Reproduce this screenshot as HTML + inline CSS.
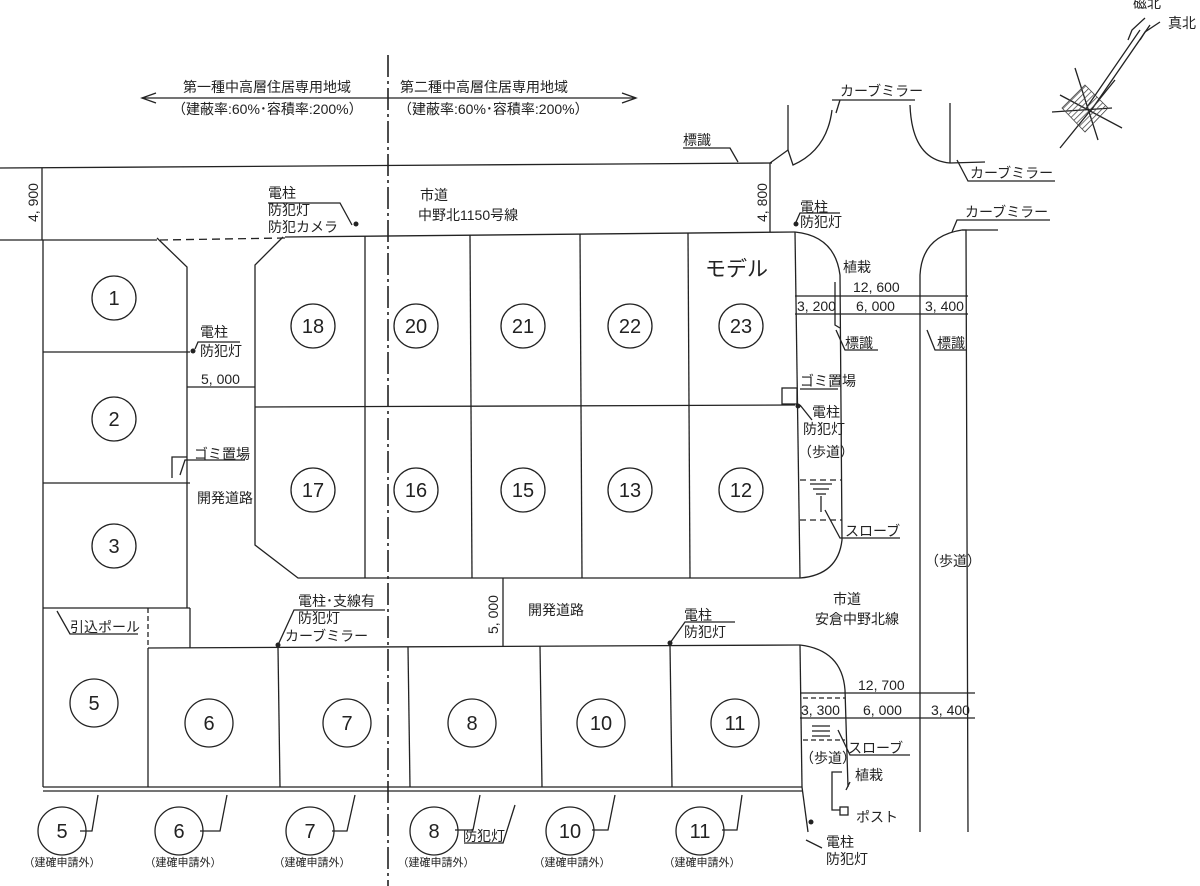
<!DOCTYPE html>
<html><head><meta charset="utf-8"><style>
html,body{margin:0;padding:0;background:#fff;}
svg{display:block;}
text{font-family:"Liberation Sans","Noto Sans CJK JP",sans-serif;fill:#222;}
.t{font-size:14px;}
.n{font-size:20px;}
</style></head><body>
<svg width="1200" height="886" viewBox="0 0 1200 886" xmlns="http://www.w3.org/2000/svg">
<defs>
<pattern id="h" width="4" height="4" patternUnits="userSpaceOnUse" patternTransform="rotate(45)">
<line x1="0" y1="0" x2="0" y2="4" stroke="#444" stroke-width="1.5"/>
</pattern>
</defs>
<g stroke="#222" stroke-width="1.3" fill="none">
<line x1="142" y1="98" x2="636" y2="98"/>
<polyline points="156,93 142,98 156,103"/>
<polyline points="622,93 636,98 622,103"/>
<line x1="388" y1="55" x2="388" y2="886" stroke-width="1.6" stroke-dasharray="22,4,3,4"/>
<line x1="0" y1="168" x2="772" y2="163"/>
<line x1="0" y1="240" x2="157" y2="240"/>
<line x1="160" y1="240" x2="285" y2="238" stroke-dasharray="8,5"/>
<line x1="285" y1="237" x2="795" y2="232"/>
<line x1="42" y1="168" x2="42" y2="240"/>
<line x1="770" y1="163" x2="770" y2="232"/>
<path d="M770,163 L788,150 L793,165 Q827,150 832,110"/>
<line x1="788" y1="105" x2="788" y2="150"/>
<path d="M910,105 Q912,160 950,163 L985,162"/>
<line x1="950" y1="103" x2="950" y2="163"/>
<line x1="832" y1="100" x2="915" y2="100"/>
<line x1="43" y1="240" x2="43" y2="787"/>
<polyline points="157,238 187,267 187,608"/>
<line x1="43" y1="352" x2="190" y2="352"/>
<line x1="43" y1="483" x2="190" y2="483"/>
<line x1="43" y1="608" x2="190" y2="608"/>
<line x1="190" y1="608" x2="190" y2="648"/>
<line x1="148" y1="608" x2="148" y2="648" stroke-dasharray="5,3"/>
<polyline points="172,478 172,457 187,457"/>
<line x1="187" y1="387" x2="255" y2="387"/>
<polyline points="283,237 255,265 255,545 298,578 800,578"/>
<line x1="365" y1="236" x2="365" y2="578"/>
<line x1="470" y1="235" x2="472" y2="578"/>
<line x1="580" y1="234" x2="582" y2="578"/>
<line x1="688" y1="233" x2="690" y2="578"/>
<line x1="795" y1="232" x2="800" y2="578"/>
<line x1="255" y1="407" x2="795" y2="405"/>
<rect x="782" y="388" width="15" height="16"/>
<path d="M795,232 Q835,236 840,275 L842,540 Q838,575 800,578"/>
<path d="M835,282 L835,325 L840,328"/>
<line x1="800" y1="480" x2="842" y2="480" stroke-dasharray="6,4"/>
<line x1="800" y1="520" x2="842" y2="520" stroke-dasharray="6,4"/>
<line x1="810" y1="484" x2="832" y2="484"/>
<line x1="813" y1="489" x2="829" y2="489"/>
<line x1="816" y1="494" x2="826" y2="494"/>
<line x1="821" y1="496" x2="821" y2="512"/>
<path d="M920,832 L920,275 Q922,236 962,230 L966,230 L968,832"/>
<line x1="962" y1="230" x2="998" y2="230"/>
<line x1="795" y1="296" x2="968" y2="296"/>
<line x1="795" y1="314" x2="968" y2="314"/>
<line x1="148" y1="648" x2="800" y2="645"/>
<line x1="148" y1="648" x2="148" y2="787"/>
<line x1="278" y1="648" x2="280" y2="787"/>
<line x1="408" y1="647" x2="410" y2="787"/>
<line x1="540" y1="646" x2="542" y2="787"/>
<line x1="670" y1="645" x2="672" y2="787"/>
<line x1="800" y1="645" x2="802" y2="787"/>
<line x1="503" y1="578" x2="503" y2="646"/>
<line x1="43" y1="787" x2="802" y2="787"/>
<line x1="43" y1="791" x2="802" y2="791"/>
<line x1="802" y1="787" x2="808" y2="832"/>
<path d="M800,645 Q842,650 845,690 L848,787"/>
<line x1="800" y1="693" x2="975" y2="693"/>
<line x1="800" y1="718" x2="975" y2="718"/>
<line x1="803" y1="698" x2="845" y2="698" stroke-dasharray="5,3"/>
<line x1="803" y1="740" x2="845" y2="740" stroke-dasharray="5,3"/>
<line x1="812" y1="726" x2="830" y2="726"/><line x1="812" y1="731" x2="830" y2="731"/><line x1="812" y1="736" x2="830" y2="736"/>
<polyline points="842,772 832,772 832,810 840,810"/>
<rect x="840" y="807" width="8" height="8"/>
<polyline points="268,203 340,203 352,225"/>
<polyline points="796,222 800,213 840,213"/>
<polyline points="195,349 198,342 240,342"/>
<polyline points="180,475 185,460 245,460"/>
<polyline points="57,611 70,634 138,634"/>
<polyline points="278,645 294,610 385,610"/>
<polyline points="670,643 685,622 735,622"/>
<polyline points="683,148 730,148 738,162"/>
<polyline points="836,113 840,100"/>
<polyline points="957,160 968,181 1055,181"/>
<polyline points="952,232 957,220 1050,220"/>
<polyline points="836,330 845,350 878,350"/>
<polyline points="927,330 935,350 967,350"/>
<polyline points="800,389 838,389"/>
<polyline points="800,405 812,420"/>
<polyline points="825,510 840,538 900,538"/>
<polyline points="838,730 850,755 910,755"/>
<polyline points="846,790 850,782"/>
<polyline points="806,840 822,848"/>
<polyline points="98,795 92,831 80,831"/>
<polyline points="227,795 220,831 200,831"/>
<polyline points="355,795 347,831 332,831"/>
<polyline points="480,795 473,830 455,830"/>
<polyline points="615,795 608,830 592,830"/>
<polyline points="742,795 737,830 722,830"/>
<polyline points="464,843 503,843 515,805"/>
<circle cx="114" cy="298" r="22"/><circle cx="114" cy="419" r="22"/><circle cx="114" cy="546" r="22"/>
<circle cx="313" cy="326" r="22"/><circle cx="416" cy="326" r="22"/><circle cx="523" cy="326" r="22"/><circle cx="630" cy="326" r="22"/><circle cx="741" cy="326" r="22"/>
<circle cx="313" cy="490" r="22"/><circle cx="416" cy="490" r="22"/><circle cx="523" cy="490" r="22"/><circle cx="630" cy="490" r="22"/><circle cx="741" cy="490" r="22"/>
<circle cx="94" cy="703" r="24"/><circle cx="209" cy="723" r="24"/><circle cx="347" cy="723" r="24"/><circle cx="472" cy="723" r="24"/><circle cx="601" cy="723" r="24"/><circle cx="735" cy="723" r="24"/>
<circle cx="62" cy="831" r="24"/><circle cx="179" cy="831" r="24"/><circle cx="310" cy="831" r="24"/><circle cx="434" cy="831" r="24"/><circle cx="570" cy="831" r="24"/><circle cx="700" cy="831" r="24"/>
<!-- compass -->
<line x1="1085" y1="110" x2="1140" y2="30"/><line x1="1090" y1="112" x2="1150" y2="25"/>
<polyline points="1128,40 1132,30 1145,18"/>
<polyline points="1140,40 1145,32 1160,22"/>
<line x1="1060" y1="95" x2="1122" y2="128"/><line x1="1075" y1="68" x2="1098" y2="140"/><line x1="1052" y1="112" x2="1112" y2="108"/><line x1="1060" y1="148" x2="1115" y2="80"/>
</g>
<polygon points="1085,85 1108,108 1085,132 1062,108" fill="url(#h)" stroke="#444" stroke-width="0.8"/>
<g fill="#222">
<circle cx="356" cy="224" r="2.5"/><circle cx="796" cy="224" r="2.5"/><circle cx="193" cy="351" r="2.5"/><circle cx="278" cy="645" r="2.5"/><circle cx="670" cy="643" r="2.5"/><circle cx="798" cy="406" r="2.5"/><circle cx="811" cy="822" r="2.5"/>
</g>
<text class="t" x="183" y="92">第一種中高層住居専用地域</text>
<text class="t" x="400" y="92">第二種中高層住居専用地域</text>
<text class="t" x="172" y="114">（建蔽率:60%･容積率:200%）</text>
<text class="t" x="398" y="114">（建蔽率:60%･容積率:200%）</text>
<text class="t" x="268" y="198">電柱</text><text class="t" x="268" y="215">防犯灯</text><text class="t" x="268" y="232">防犯カメラ</text>
<text class="t" x="420" y="200">市道</text><text class="t" x="418" y="220">中野北1150号線</text>
<text class="t" x="200" y="337">電柱</text>
<text class="t" x="200" y="356">防犯灯</text>
<text class="t" x="201" y="384">5, 000</text>
<text class="t" x="194" y="459">ゴミ置場</text>
<text class="t" x="197" y="503">開発道路</text>
<text class="t" x="70" y="632">引込ポール</text>
<text class="t" x="298" y="606">電柱･支線有</text><text class="t" x="298" y="623">防犯灯</text><text class="t" x="285" y="641">カーブミラー</text>
<text class="t" x="528" y="615">開発道路</text>
<text class="t" x="684" y="620">電柱</text><text class="t" x="684" y="637">防犯灯</text>
<text class="t" x="463" y="841">防犯灯</text>
<text class="t" transform="translate(498,634) rotate(-90)">5, 000</text>
<text class="t" transform="translate(38,222) rotate(-90)">4, 900</text>
<text class="t" transform="translate(767,222) rotate(-90)">4, 800</text>
<text class="t" x="683" y="145">標識</text>
<text class="t" x="840" y="96">カーブミラー</text>
<text class="t" x="970" y="178">カーブミラー</text>
<text class="t" x="965" y="217">カーブミラー</text>
<text class="t" x="800" y="212">電柱</text><text class="t" x="800" y="227">防犯灯</text>
<text x="705" y="276" style="font-size:21px">モデル</text>
<text class="t" x="843" y="272">植栽</text>
<text class="t" x="853" y="292">12, 600</text>
<text class="t" x="797" y="311">3, 200</text><text class="t" x="856" y="311">6, 000</text><text class="t" x="925" y="311">3, 400</text>
<text class="t" x="845" y="348">標識</text><text class="t" x="937" y="348">標識</text>
<text class="t" x="800" y="386">ゴミ置場</text>
<text class="t" x="812" y="417">電柱</text><text class="t" x="803" y="434">防犯灯</text><text class="t" x="798" y="457">（歩道）</text>
<text class="t" x="845" y="536">スローブ</text>
<text class="t" x="925" y="566">（歩道）</text>
<text class="t" x="833" y="604">市道</text><text class="t" x="815" y="624">安倉中野北線</text>
<text class="t" x="858" y="690">12, 700</text>
<text class="t" x="801" y="715">3, 300</text><text class="t" x="863" y="715">6, 000</text><text class="t" x="931" y="715">3, 400</text>
<text class="t" x="848" y="753">スローブ</text>
<text class="t" x="800" y="763">（歩道）</text>
<text class="t" x="855" y="780">植栽</text>
<text class="t" x="856" y="822">ポスト</text>
<text class="t" x="826" y="847">電柱</text><text class="t" x="826" y="864">防犯灯</text>
<text class="t" x="1133" y="8">磁北</text><text class="t" x="1168" y="28">真北</text>
<g text-anchor="middle">
<text x="114" y="305" class="n">1</text><text x="114" y="426" class="n">2</text><text x="114" y="553" class="n">3</text>
<text x="313" y="333" class="n">18</text><text x="416" y="333" class="n">20</text><text x="523" y="333" class="n">21</text><text x="630" y="333" class="n">22</text><text x="741" y="333" class="n">23</text>
<text x="313" y="497" class="n">17</text><text x="416" y="497" class="n">16</text><text x="523" y="497" class="n">15</text><text x="630" y="497" class="n">13</text><text x="741" y="497" class="n">12</text>
<text x="94" y="710" class="n">5</text><text x="209" y="730" class="n">6</text><text x="347" y="730" class="n">7</text><text x="472" y="730" class="n">8</text><text x="601" y="730" class="n">10</text><text x="735" y="730" class="n">11</text>
<text x="62" y="838" class="n">5</text><text x="179" y="838" class="n">6</text><text x="310" y="838" class="n">7</text><text x="434" y="838" class="n">8</text><text x="570" y="838" class="n">10</text><text x="700" y="838" class="n">11</text>
<text x="62" y="866" style="font-size:11px">（建確申請外）</text><text x="183" y="866" style="font-size:11px">（建確申請外）</text><text x="312" y="866" style="font-size:11px">（建確申請外）</text><text x="436" y="866" style="font-size:11px">（建確申請外）</text><text x="572" y="866" style="font-size:11px">（建確申請外）</text><text x="702" y="866" style="font-size:11px">（建確申請外）</text>
</g>
</svg>
</body></html>
